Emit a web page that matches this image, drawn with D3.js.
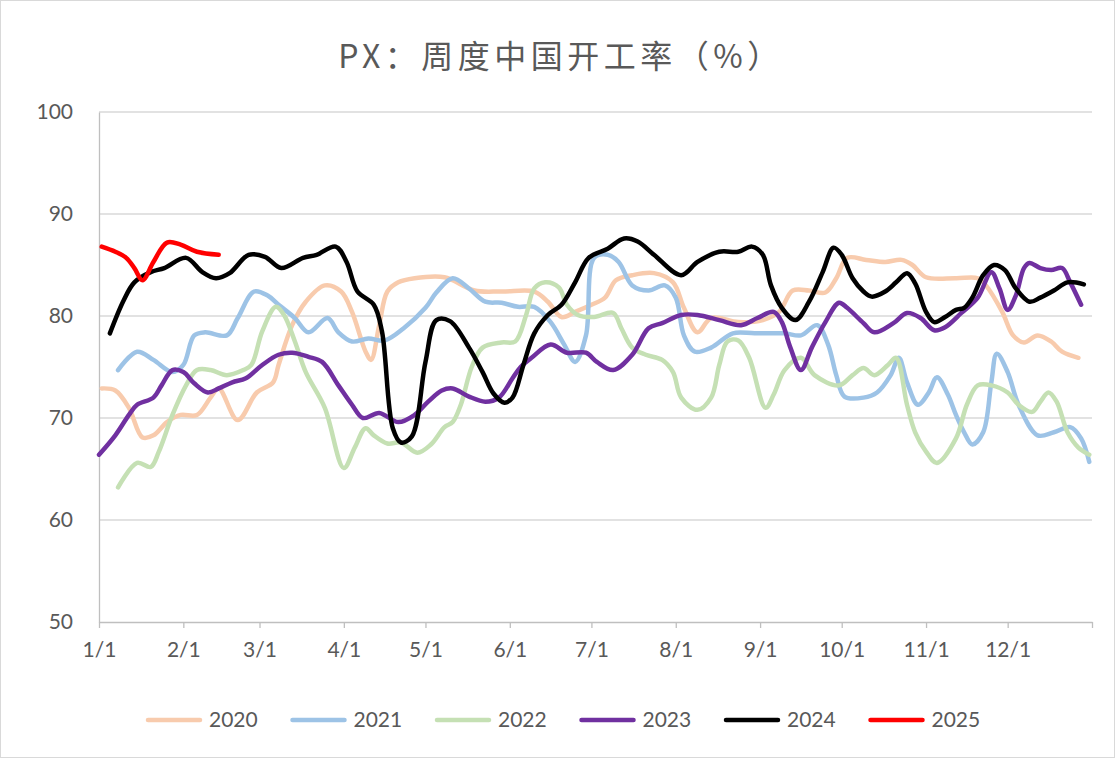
<!DOCTYPE html>
<html lang="zh">
<head>
<meta charset="UTF-8">
<title>PX：周度中国开工率（%）</title>
<script src="https://d3js.org/d3.v7.min.js"></script>
<style>
  body { margin: 0; background: #fff; }
  svg text { font-family: Lato, "Liberation Sans", sans-serif; fill: #595959; }
</style>
</head>
<body>
<div id="chart"></div>
<script>
// x values are day-of-year (0 = 1/1), y values are operating rate in %
const monthDays = [0, 31, 59, 90, 120, 151, 181, 212, 243, 273, 304, 334];
const monthLabels = ["1/1", "2/1", "3/1", "4/1", "5/1", "6/1", "7/1", "8/1", "9/1", "10/1", "11/1", "12/1"];
const yTicks = [50, 60, 70, 80, 90, 100];
const years = ["2020", "2021", "2022", "2023", "2024", "2025"];
const colors = ["#F8CBAD", "#9DC3E6", "#C5E0B4", "#7030A0", "#000000", "#FF0000"];

const s2020 = [[1,72.9],[6,72.7],[11,71.0],[16,68.1],[20,68.3],[25,69.6],[30,70.3],[36,70.3],[41,72.0],[44,72.9],[51,69.8],[58,72.5],[64,73.5],[66,75.2],[71,79.1],[76,81.4],[83,83.0],[89,82.4],[93,80.4],[98,76.5],[100,75.7],[103,79.1],[106,82.4],[110,83.3],[116,83.7],[127,83.8],[130,83.5],[138,82.5],[148,82.4],[160,82.4],[165,81.4],[170,79.9],[175,80.4],[181,81.1],[186,81.8],[190,83.5],[196,84.0],[204,84.2],[211,83.3],[215,80.8],[220,78.4],[225,79.8],[235,79.4],[244,79.6],[250,80.4],[255,82.5],[261,82.5],[267,82.3],[271,83.7],[275,85.7],[282,85.5],[289,85.3],[295,85.5],[299,85.0],[304,83.8],[315,83.7],[323,83.7],[326,83.0],[332,80.4],[336,78.1],[340,77.4],[345,78.1],[350,77.5],[354,76.5],[360,75.9]];
const s2021 = [[7,74.7],[14,76.5],[20,75.7],[27,74.5],[31,75.2],[35,78.1],[39,78.4],[47,78.1],[51,79.8],[57,82.4],[62,82.0],[66,81.1],[72,79.8],[77,78.4],[84,79.8],[88,78.4],[93,77.5],[99,77.8],[105,77.6],[112,78.8],[120,80.8],[124,82.3],[130,83.7],[136,82.7],[142,81.4],[148,81.3],[154,80.9],[160,80.9],[166,79.4],[171,77.2],[175,75.5],[179,78.1],[182,85.7],[187,86.0],[191,85.3],[196,83.0],[202,82.5],[208,83.0],[212,81.8],[215,78.1],[219,76.5],[225,76.9],[233,78.3],[241,78.3],[252,78.3],[258,78.1],[264,79.1],[268,77.2],[271,74.2],[274,72.1],[281,72.0],[286,72.5],[291,74.2],[294,75.9],[297,73.5],[301,71.3],[305,72.5],[308,74.0],[312,72.3],[315,70.3],[318,68.6],[321,67.4],[325,68.6],[328,73.5],[330,76.3],[334,74.5],[338,71.3],[345,68.3],[351,68.6],[357,69.1],[361,68.0],[364,65.7]];
const s2022 = [[7,63.2],[14,65.6],[19,65.2],[22,66.7],[27,70.3],[32,73.2],[36,74.7],[41,74.7],[47,74.2],[53,74.7],[56,75.2],[60,78.5],[65,80.9],[68,80.1],[72,77.5],[76,74.5],[83,71.0],[90,65.1],[94,67.1],[98,69.0],[101,68.3],[106,67.5],[111,67.6],[117,66.6],[122,67.4],[127,69.1],[130,69.6],[133,71.3],[137,75.0],[141,76.9],[148,77.4],[153,77.5],[157,80.1],[160,82.7],[164,83.3],[169,82.8],[172,81.1],[176,80.1],[182,79.9],[189,80.3],[192,78.8],[196,76.9],[201,76.2],[207,75.7],[211,74.5],[214,72.0],[220,70.8],[225,72.0],[228,75.2],[231,77.5],[235,77.6],[239,75.9],[245,71.0],[248,72.3],[252,74.7],[258,75.9],[263,74.2],[272,73.2],[277,74.2],[281,74.9],[285,74.2],[290,75.2],[293,75.9],[297,71.3],[300,68.6],[304,66.7],[308,65.6],[315,68.0],[319,71.3],[323,73.2],[328,73.2],[334,72.5],[338,71.3],[343,70.6],[346,71.6],[349,72.5],[352,71.6],[356,68.6],[360,67.1],[364,66.4]];
const s2023 = [[0,66.4],[6,68.3],[11,70.3],[14,71.3],[20,72.0],[23,73.2],[27,74.7],[31,74.5],[35,73.4],[40,72.5],[44,72.9],[49,73.5],[54,73.9],[60,75.2],[66,76.2],[71,76.4],[77,76.0],[82,75.5],[88,73.2],[93,71.3],[97,70.0],[103,70.5],[110,69.6],[116,70.3],[121,71.6],[126,72.7],[130,72.9],[136,72.1],[142,71.6],[147,72.0],[152,73.9],[155,75.0],[159,75.9],[166,77.2],[172,76.4],[179,76.4],[183,75.5],[189,74.7],[196,76.2],[202,78.8],[207,79.3],[214,80.1],[220,80.1],[228,79.6],[236,79.1],[242,79.8],[248,80.4],[251,79.4],[254,77.0],[258,74.7],[262,76.9],[267,79.4],[272,81.3],[275,80.8],[281,79.3],[285,78.4],[292,79.3],[297,80.3],[302,79.8],[307,78.6],[311,78.9],[317,80.3],[323,81.8],[328,84.3],[331,82.7],[334,80.6],[337,82.0],[340,84.7],[342,85.2],[346,84.7],[350,84.5],[354,84.7],[357,83.3],[361,81.1]];
const s2024 = [[4,78.3],[9,81.5],[13,83.3],[19,84.3],[24,84.7],[32,85.7],[38,84.3],[43,83.7],[48,84.2],[55,86.0],[61,85.8],[67,84.7],[75,85.7],[80,86.0],[87,86.8],[91,85.3],[95,82.4],[101,81.1],[104,78.5],[108,69.0],[111,67.6],[115,68.2],[120,75.5],[124,79.6],[129,79.5],[136,76.9],[141,74.5],[145,72.4],[149,71.5],[152,72.0],[156,75.2],[160,78.3],[165,80.1],[170,81.1],[175,83.3],[180,85.7],[187,86.6],[193,87.6],[198,87.3],[204,86.0],[214,84.0],[220,85.3],[228,86.3],[235,86.3],[240,86.8],[244,86.0],[247,83.0],[251,80.8],[256,79.6],[261,81.4],[266,84.3],[270,86.7],[273,86.0],[277,83.7],[281,82.4],[284,81.9],[289,82.4],[293,83.3],[297,84.2],[300,83.2],[304,80.4],[307,79.4],[311,79.9],[315,80.6],[318,80.8],[321,81.8],[325,84.0],[329,85.0],[333,84.5],[337,82.7],[342,81.4],[346,81.8],[351,82.5],[356,83.3],[362,83.1]];
const s2025 = [[1,86.8],[6,86.3],[10,85.7],[13,84.7],[16,83.5],[20,85.3],[25,87.2],[30,87.0],[36,86.3],[44,86.0]];

const series = [s2020, s2021, s2022, s2023, s2024, s2025];

const width = 1115;
const height = 758;
const margin = { top: 112, right: 23, bottom: 136, left: 99 };

const svg = d3.select("#chart").append("svg")
    .attr("width", width)
    .attr("height", height);

svg.append("rect")
    .attr("x", 0.5).attr("y", 0.5)
    .attr("width", width - 1).attr("height", height - 1)
    .attr("fill", "#fff")
    .attr("stroke", "#d9d9d9");

const x = d3.scaleLinear()
    .domain([0, 365])
    .range([margin.left, width - margin.right]);

const y = d3.scaleLinear()
    .domain([50, 100])
    .range([height - margin.bottom, margin.top]);

// gridlines
svg.append("g")
    .selectAll("line")
    .data(yTicks.slice(1))
    .join("line")
    .attr("x1", x(0)).attr("x2", x(365))
    .attr("y1", d => y(d)).attr("y2", d => y(d))
    .attr("stroke", "#d9d9d9")
    .attr("stroke-width", 1.3);

// y axis
const yAxis = svg.append("g")
    .attr("transform", `translate(${margin.left},0)`)
    .call(d3.axisLeft(y).tickValues(yTicks).tickSize(0).tickPadding(26));
yAxis.select(".domain").attr("stroke", "#bfbfbf").attr("stroke-width", 1.3);
yAxis.selectAll("text").attr("font-size", 21).attr("fill", "#595959")
    .style("font-family", "Lato, sans-serif");

// x axis
const xAxis = svg.append("g")
    .attr("transform", `translate(0,${y(50)})`)
    .call(d3.axisBottom(x).tickValues(monthDays.concat([365]))
        .tickFormat((d, i) => monthLabels[i] || "")
        .tickSize(6).tickSizeOuter(0).tickPadding(14));
xAxis.select(".domain").attr("stroke", "#bfbfbf").attr("stroke-width", 1.3);
xAxis.selectAll(".tick line").attr("stroke", "#bfbfbf").attr("stroke-width", 1.3);
xAxis.selectAll("text").attr("font-size", 21).attr("fill", "#595959")
    .style("font-family", "Lato, sans-serif");

// lines
const line = d3.line()
    .x(d => x(d[0]))
    .y(d => y(d[1]))
    .curve(d3.curveCatmullRom.alpha(0.5));

svg.append("g")
    .selectAll("path")
    .data(series)
    .join("path")
    .attr("d", line)
    .attr("fill", "none")
    .attr("stroke", (d, i) => colors[i])
    .attr("stroke-width", 4.5)
    .attr("stroke-linejoin", "round")
    .attr("stroke-linecap", "round");

// title
svg.append("text")
    .attr("x", 561)
    .attr("y", 68)
    .attr("text-anchor", "middle")
    .attr("font-size", 32)
    .attr("letter-spacing", 4.5)
    .style("font-family", "'Noto Sans CJK SC', 'DejaVu Sans Mono', sans-serif")
    .style("fill", "#595959")
    .text("PX：周度中国开工率（%）");

// legend
const legend = svg.append("g")
    .selectAll("g")
    .data(years)
    .join("g")
    .attr("transform", (d, i) => `translate(${148 + i * 144.5},720)`);

legend.append("line")
    .attr("x1", 0).attr("x2", 52)
    .attr("stroke", (d, i) => colors[i])
    .attr("stroke-width", 4.5)
    .attr("stroke-linecap", "round");

legend.append("text")
    .attr("x", 61)
    .attr("dy", "0.35em")
    .attr("font-size", 21)
    .style("fill", "#595959")
    .text(d => d);
</script>
</body>
</html>
